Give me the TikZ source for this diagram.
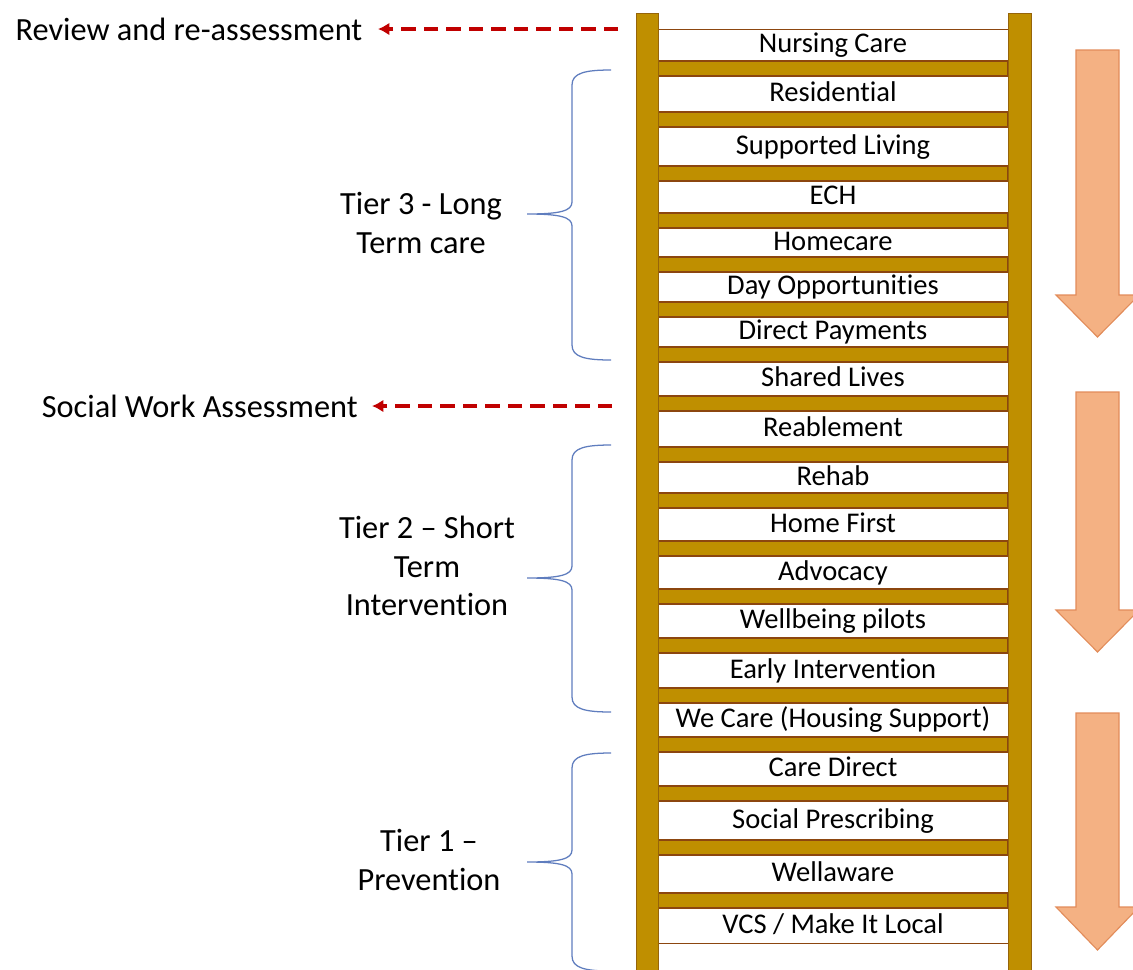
\documentclass[tikz,border=0pt]{standalone}
\usepackage{fontspec}
\setmainfont{Carlito}[Ligatures={TeX,NoCommon}]
\usetikzlibrary{arrows.meta,positioning,calc}

\definecolor{railgold}{RGB}{191,143,0}
\definecolor{railedge}{RGB}{150,100,10}
\definecolor{rungedge}{RGB}{140,70,15}
\definecolor{flowfill}{RGB}{244,177,131}
\definecolor{flowedge}{RGB}{226,140,90}
\definecolor{dashred}{RGB}{192,0,0}
\definecolor{braceblue}{RGB}{95,125,190}

\tikzset{
  rail/.style={fill=railgold, draw=railedge, line width=0.6pt},
  rungbar/.style={fill=railgold, draw=rungedge, line width=0.8pt},
  rungtext/.style={font=\fontsize{20.3}{24}\selectfont, text height=14pt, text depth=3pt, inner sep=0pt},
  sidetext/.style={font=\fontsize{23}{27.5}\selectfont, align=center, inner sep=0pt},
  dasharrow/.style={dashred, line width=2.8pt, dash pattern=on 10pt off 6pt, -{Latex[length=8pt,width=9pt]}},
  tierbrace/.style={braceblue, line width=0.9pt},
  flowarrow/.style={fill=flowfill, draw=flowedge, line width=0.8pt}
}

\begin{document}
\begin{tikzpicture}[x=0.025cm, y=-0.025cm, >=Latex]
  \useasboundingbox (0,0) rectangle (1133,969);
  \clip (0,0) rectangle (1133,969);

  % white steps behind the rungs
  \draw[draw=rungedge, line width=0.6pt, fill=white] (658,29) rectangle (1008,943);

  % rungs
  \foreach \y in {61,112,166,213,257,302,347,396,447,493,541,589,638,688,737,786,840,893}
    \draw[rungbar] (658,\y) rectangle (1008,{\y+15});

  % rails
  \draw[rail] (636,13) rectangle (658,975);
  \draw[rail] (1008,13) rectangle (1031,975);

  % services on the steps
  \foreach \y/\txt [count=\i] in {45/Nursing Care, 94/Residential, 146.5/Supported Living,
      197/ECH, 242.5/Homecare, 287/Day Opportunities, 332/Direct Payments,
      379/Shared Lives, 429/Reablement, 477.5/Rehab, 524.5/Home First,
      572.5/Advocacy, 621/Wellbeing pilots, 670.5/Early Intervention,
      720/We Care (Housing Support), 769/Care Direct, 820.5/Social Prescribing,
      874/Wellaware, 925.5/{VCS / Make It Local}}
    \node[rungtext] (step\i) at (833,\y) {\txt};

  % assessment points
  \node[sidetext, anchor=east, inner xsep=11pt] (review) at (378,29) {Review and re-assessment};
  \node[sidetext, anchor=east, inner xsep=10pt] (swa) at (372,406) {Social Work Assessment};
  \coordinate (reviewfrom) at (618,29);
  \coordinate (swafrom) at (612,406);
  \draw[dasharrow] (reviewfrom) -- (reviewfrom -| review.east);
  \draw[dasharrow] (swafrom) -- (swafrom -| swa.east);

  % tiers
  \node[sidetext] (tier3) at (421,223) {Tier 3 - Long\\Term care};
  \node[sidetext] (tier2) at (427,566) {Tier 2 – Short\\Term\\Intervention};
  \node[sidetext] (tier1) at (429,860) {Tier 1 –\\Prevention};

  \foreach \t/\m/\b in {70/214/360, 445/578/712, 753/862/971}
    \draw[tierbrace] (611,\t) .. controls (585,\t) and (572,{\t+3}) .. (572,{\t+15})
      -- (572,{\m-12}) .. controls (572,{\m-3}) and (560,\m) .. (527,\m)
      .. controls (560,\m) and (572,{\m+3}) .. (572,{\m+12})
      -- (572,{\b-15}) .. controls (572,{\b-3}) and (585,\b) .. (611,\b);

  % direction of travel
  \foreach \t/\h/\p in {50/295/337, 392/610/652, 713/907/950}
    \draw[flowarrow] (1076,\t) -- (1119,\t) -- (1119,\h) -- (1139,\h) -- (1097.5,\p)
      -- (1056,\h) -- (1076,\h) -- cycle;
\end{tikzpicture}
\end{document}
